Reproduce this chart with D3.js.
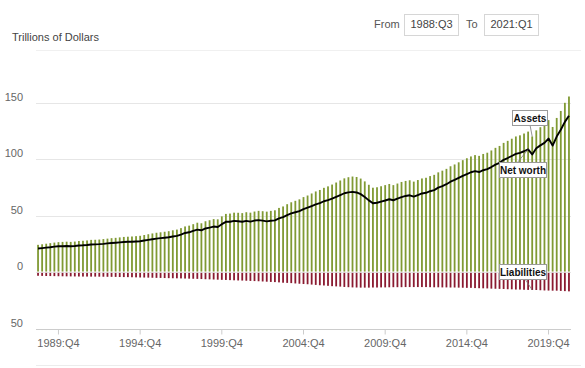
<!DOCTYPE html>
<html>
<head>
<meta charset="utf-8">
<script src="https://cdn.jsdelivr.net/npm/d3@7"></script>
<style>
  html,body{margin:0;padding:0;background:#fff;}
  svg{display:block;font-family:"Liberation Sans",Arial,Helvetica,sans-serif;}
</style>
</head>
<body>
<svg id="chart" width="585" height="368"></svg>
<script>
// ---- categories: quarters 1988:Q3 .. 2021:Q1 ----
const quarters = [];
for (let yr = 1988; yr <= 2021; yr++) {
  for (let q = 1; q <= 4; q++) {
    if (yr === 1988 && q < 3) continue;
    if (yr === 2021 && q > 1) break;
    quarters.push(yr + ":Q" + q);
  }
}

// ---- series (trillions of dollars) ----
const netWorth = [
  20.8, 21.2,
  21.6, 22.0, 22.5, 22.8,
  22.9, 23.1, 22.8, 23.1,
  23.5, 23.7, 24.0, 24.4,
  24.5, 24.7, 25.0, 25.4,
  25.7, 26.0, 26.3, 26.6,
  26.8, 26.9, 27.1, 27.3,
  27.9, 28.5, 29.1, 29.6,
  30.0, 30.4, 30.8, 31.5,
  32.0, 33.2, 34.6, 35.2,
  36.4, 37.6, 37.0, 38.6,
  39.4, 40.3, 39.9, 42.4,
  44.5, 44.6, 45.3, 45.0,
  44.6, 45.3, 44.7, 45.6,
  46.0, 45.5, 44.9, 45.4,
  45.8, 47.6, 48.6, 50.5,
  52.0, 53.0, 54.0, 55.8,
  57.0, 58.5, 60.0, 61.0,
  62.7, 63.7, 65.0, 66.6,
  68.2, 69.8, 70.6, 71.0,
  70.5, 69.0, 66.5, 63.5,
  61.0, 61.4, 62.4, 63.4,
  64.5, 63.6, 65.0, 66.4,
  67.4, 68.0, 66.8, 68.2,
  69.6, 70.2, 71.6, 72.6,
  74.8, 76.2, 77.8, 80.0,
  81.6, 83.4, 85.2, 86.8,
  88.4, 89.4, 88.6, 90.2,
  91.2, 93.0, 95.2, 96.8,
  99.4, 101.0, 102.8, 104.6,
  105.6, 107.0, 108.6, 104.2,
  109.6, 112.2, 114.4, 118.2,
  112.0, 120.0, 126.0, 133.0,
  138.4
];

const assets = [
  24.1, 24.6,
  25.1, 25.6, 26.1, 26.5,
  26.7, 26.9, 26.7, 27.0,
  27.5, 27.7, 28.0, 28.5,
  28.6, 28.8, 29.2, 29.6,
  30.0, 30.3, 30.7, 31.1,
  31.3, 31.5, 31.8, 32.1,
  32.8, 33.5, 34.2, 34.8,
  35.2, 35.7, 36.2, 37.0,
  37.6, 38.9, 40.4, 41.1,
  42.4, 43.7, 43.2, 45.0,
  45.9, 46.9, 46.7, 49.3,
  51.5, 51.8, 52.6, 52.5,
  52.2, 53.0, 52.6, 53.6,
  54.2, 53.9, 53.5, 54.2,
  54.7, 56.8, 58.1, 60.1,
  61.8, 63.1, 64.4, 66.4,
  67.8, 69.6, 71.4, 72.7,
  74.6, 75.9, 77.5, 79.3,
  81.1, 83.0, 84.0, 84.6,
  84.2, 82.8, 80.3, 77.3,
  74.7, 75.1, 76.0, 77.0,
  78.0, 77.0, 78.4, 79.8,
  80.7, 81.3, 80.1, 81.5,
  82.9, 83.5, 85.0, 86.1,
  88.3, 89.8, 91.4, 93.7,
  95.3, 97.2, 99.1, 100.8,
  102.4, 103.6, 102.9, 104.6,
  105.7, 107.7, 110.0, 111.7,
  114.4, 116.2, 118.1, 120.1,
  121.1, 122.7, 124.4, 120.1,
  125.5, 128.3, 130.7, 134.6,
  128.5, 136.5, 142.7, 149.9,
  155.5
];

const liabilities = [
  3.3, 3.4,
  3.5, 3.55, 3.6, 3.7,
  3.75, 3.8, 3.85, 3.9,
  3.95, 4.0, 4.0, 4.05,
  4.05, 4.1, 4.15, 4.2,
  4.25, 4.3, 4.4, 4.45,
  4.5, 4.6, 4.7, 4.8,
  4.85, 4.95, 5.05, 5.15,
  5.2, 5.3, 5.4, 5.5,
  5.55, 5.65, 5.75, 5.85,
  5.95, 6.05, 6.2, 6.35,
  6.45, 6.6, 6.75, 6.9,
  7.0, 7.15, 7.3, 7.45,
  7.55, 7.7, 7.85, 8.0,
  8.15, 8.35, 8.55, 8.75,
  8.9, 9.15, 9.45, 9.6,
  9.8, 10.1, 10.35, 10.6,
  10.8, 11.1, 11.4, 11.7,
  11.9, 12.2, 12.5, 12.7,
  12.9, 13.2, 13.4, 13.6,
  13.7, 13.8, 13.8, 13.8,
  13.7, 13.7, 13.6, 13.6,
  13.5, 13.4, 13.4, 13.4,
  13.3, 13.3, 13.3, 13.3,
  13.3, 13.3, 13.4, 13.5,
  13.5, 13.6, 13.6, 13.7,
  13.7, 13.8, 13.9, 14.0,
  14.0, 14.2, 14.3, 14.4,
  14.5, 14.7, 14.8, 14.9,
  15.0, 15.2, 15.3, 15.5,
  15.5, 15.7, 15.8, 15.9,
  15.9, 16.1, 16.3, 16.4,
  16.5, 16.5, 16.7, 16.9,
  17.1
];

const xTickLabels = ["1989:Q4","1994:Q4","1999:Q4","2004:Q4","2009:Q4","2014:Q4","2019:Q4"];
const yTickValues = [-50, 0, 50, 100, 150];
const rangeFrom = "1988:Q3";
const rangeTo = "2021:Q1";

// ---- drawing ----
(function draw() {
const svg = d3.select("#chart");
const pLeft = 36, pRight = 571, pTop = 102.7, pBottom = 328.5;

const x = d3.scaleBand().domain(quarters).range([pLeft, pRight]).padding(0);
const y = d3.scaleLinear().domain([-50, 150]).range([pBottom, pTop]);
const bw = 1.8;
const cx = q => x(q) + x.bandwidth() / 2;

// header
svg.append("text").attr("x", 12).attr("y", 41)
  .attr("font-size", 11).attr("fill", "#444").text("Trillions of Dollars");
svg.append("line").attr("x1", pLeft).attr("x2", pRight + 10).attr("y1", 50.5).attr("y2", 50.5)
  .attr("stroke", "#f0f0f0");

svg.append("text").attr("x", 374).attr("y", 28).attr("font-size", 11).attr("fill", "#555").text("From");
svg.append("rect").attr("x", 404.5).attr("y", 14.5).attr("width", 54).attr("height", 21)
  .attr("fill", "#fff").attr("stroke", "#d6d6d6");
svg.append("text").attr("x", 431.5).attr("y", 28).attr("text-anchor", "middle")
  .attr("font-size", 11).attr("fill", "#444").text(rangeFrom);
svg.append("text").attr("x", 466).attr("y", 28).attr("font-size", 11).attr("fill", "#555").text("To");
svg.append("rect").attr("x", 484.5).attr("y", 14.5).attr("width", 54).attr("height", 21)
  .attr("fill", "#fff").attr("stroke", "#d6d6d6");
svg.append("text").attr("x", 511.5).attr("y", 28).attr("text-anchor", "middle")
  .attr("font-size", 11).attr("fill", "#444").text(rangeTo);

// gridlines
svg.append("g").selectAll("line").data(yTickValues.filter(v => v > -50)).join("line")
  .attr("x1", pLeft).attr("x2", pRight)
  .attr("y1", d => Math.round(y(d)) + 0.5).attr("y2", d => Math.round(y(d)) + 0.5)
  .attr("stroke", "#e6e6e6");

// y labels
svg.append("g").selectAll("text").data(yTickValues).join("text")
  .attr("x", 23).attr("y", d => y(d) - 2)
  .attr("text-anchor", "end").attr("font-size", 11).attr("fill", "#666")
  .text(d => Math.abs(d));

// bars: assets
svg.append("g").selectAll("rect").data(quarters).join("rect")
  .attr("x", q => cx(q) - bw / 2).attr("width", bw)
  .attr("y", (q, i) => y(assets[i])).attr("height", (q, i) => y(0) - 0.5 - y(assets[i]))
  .attr("fill", "#809a34");

// bars: liabilities
svg.append("g").selectAll("rect").data(quarters).join("rect")
  .attr("x", q => cx(q) - bw / 2).attr("width", bw)
  .attr("y", y(0) + 0.8).attr("height", (q, i) => y(-liabilities[i]) - y(0) - 0.8)
  .attr("fill", "#8a1a30");

// net worth line
const line = d3.line().x(d => cx(d.q)).y(d => y(d.v)).curve(d3.curveLinear);
svg.append("path").datum(quarters.map((q, i) => ({q, v: netWorth[i]})))
  .attr("d", line).attr("fill", "none").attr("stroke", "#000").attr("stroke-width", 1.9)
  .attr("stroke-linejoin", "round");

// x axis
const xAxis = d3.axisBottom(x).tickValues(xTickLabels).tickSize(5).tickSizeOuter(0);
const gx = svg.append("g").attr("transform", `translate(0,${Math.round(pBottom) + 0.5})`).call(xAxis);
gx.select(".domain").attr("stroke", "#ccc").attr("d", `M${pLeft},0H${pRight}`);
gx.selectAll(".tick line").attr("stroke", "#ccc");
gx.selectAll(".tick text").attr("font-size", 11).attr("fill", "#666").attr("dy", "0.9em")
  .attr("font-family", "\"Liberation Sans\",Arial,sans-serif");

// bottom navigator line
svg.append("line").attr("x1", pLeft).attr("x2", pRight + 10).attr("y1", 365.5).attr("y2", 365.5)
  .attr("stroke", "#ececec");

// annotations
function callout(label, px, py, bx, by, bwid, lx, ly) {
  const g = svg.append("g");
  g.append("line").attr("x1", lx).attr("y1", ly).attr("x2", px).attr("y2", py)
    .attr("stroke", "#777").attr("stroke-width", 0.8);
  g.append("rect").attr("x", bx + 0.5).attr("y", by + 0.5).attr("width", bwid).attr("height", 15)
    .attr("fill", "#fff").attr("stroke", "#9a9a9a");
  g.append("text").attr("x", bx + 0.5 + bwid / 2).attr("y", by + 11.5).attr("text-anchor", "middle")
    .attr("font-size", 10).attr("font-weight", "bold").attr("fill", "#111").text(label);
}
const iA = quarters.indexOf("2018:Q4");
const iN = quarters.indexOf("2018:Q3");
callout("Assets", cx(quarters[iA]), y(assets[iA]), 512, 110, 35, 530, 125);
callout("Net worth", cx(quarters[iN]), y(netWorth[iN]), 499, 162, 47, 517, 163);
callout("Liabilities", cx(quarters[iA]), y(-liabilities[iA]), 499, 264, 47, 525, 279);
})();
</script>
</body>
</html>
